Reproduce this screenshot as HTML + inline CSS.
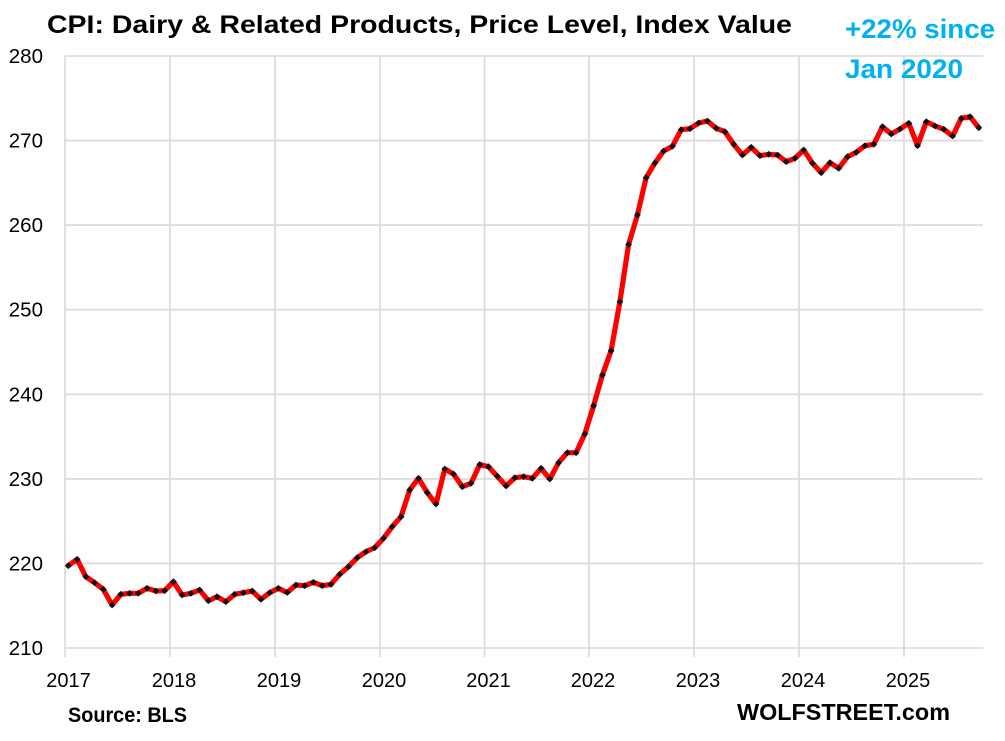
<!DOCTYPE html>
<html>
<head>
<meta charset="utf-8">
<style>
  html, body { margin: 0; padding: 0; background: #ffffff; }
  body { width: 1005px; height: 741px; overflow: hidden; }
  svg { display: block; }
  text { font-family: "Liberation Sans", Arial, sans-serif; }
</style>
</head>
<body>
<svg width="1005" height="741" viewBox="0 0 1005 741" xmlns="http://www.w3.org/2000/svg">
  <defs>
    <marker id="dia" markerUnits="userSpaceOnUse" markerWidth="10" markerHeight="10" refX="5" refY="5" orient="0">
      <path d="M5 1.6 L8.4 5 L5 8.4 L1.6 5 Z" fill="#111"/>
    </marker>
  </defs>
  <rect x="0" y="0" width="1005" height="741" fill="#fff"/>

  <!-- horizontal gridlines -->
  <g stroke="#d9d9d9" stroke-width="1.6">
    <line x1="65" y1="56" x2="983" y2="56"/>
    <line x1="65" y1="140.6" x2="983" y2="140.6"/>
    <line x1="65" y1="225.1" x2="983" y2="225.1"/>
    <line x1="65" y1="309.7" x2="983" y2="309.7"/>
    <line x1="65" y1="394.3" x2="983" y2="394.3"/>
    <line x1="65" y1="478.9" x2="983" y2="478.9"/>
    <line x1="65" y1="563.4" x2="983" y2="563.4"/>
    <line x1="65" y1="648" x2="983" y2="648"/>
  </g>
  <!-- vertical gridlines -->
  <g stroke="#d9d9d9" stroke-width="1.6">
    <line x1="65" y1="56" x2="65" y2="657"/>
    <line x1="170" y1="56" x2="170" y2="657"/>
    <line x1="275" y1="56" x2="275" y2="657"/>
    <line x1="380" y1="56" x2="380" y2="657"/>
    <line x1="484.5" y1="56" x2="484.5" y2="657"/>
    <line x1="589" y1="56" x2="589" y2="657"/>
    <line x1="694" y1="56" x2="694" y2="657"/>
    <line x1="799" y1="56" x2="799" y2="657"/>
    <line x1="904" y1="56" x2="904" y2="657"/>
  </g>

  <!-- y labels -->
  <g font-size="20.5" fill="#000" text-anchor="end">
    <text x="43" y="63">280</text>
    <text x="43" y="147.6">270</text>
    <text x="43" y="232.1">260</text>
    <text x="43" y="316.7">250</text>
    <text x="43" y="401.3">240</text>
    <text x="43" y="485.9">230</text>
    <text x="43" y="570.4">220</text>
    <text x="43" y="655">210</text>
  </g>
  <!-- x labels -->
  <g font-size="20" fill="#000" text-anchor="middle">
    <text x="68.5" y="687">2017</text>
    <text x="174" y="687">2018</text>
    <text x="279" y="687">2019</text>
    <text x="384" y="687">2020</text>
    <text x="488.5" y="687">2021</text>
    <text x="593" y="687">2022</text>
    <text x="698" y="687">2023</text>
    <text x="803" y="687">2024</text>
    <text x="908" y="687">2025</text>
  </g>

  <!-- series -->
  <polyline fill="none" stroke="#ff0000" stroke-width="5.2" stroke-linejoin="round" stroke-linecap="round"
    marker-start="url(#dia)" marker-mid="url(#dia)" marker-end="url(#dia)"
    points="68.3,565.7 77.1,559.3 85.8,576.7 94.6,582.7 103.3,589.3 112.1,605 120.8,594.3 129.6,593.3 138.3,593.3 147.1,588.3 155.9,591 164.6,590.7 173.4,581.7 182.1,595 190.9,593.3 199.6,590 208.4,600.7 217.1,596.7 225.9,601.7 234.6,594.3 243.4,592.7 252.2,591 260.9,599.3 269.7,592.7 278.4,588.3 287.2,592.5 295.9,585 304.7,585.7 313.4,582.3 322.2,585.7 331,584.3 339.7,574.3 348.5,566.7 357.2,557.7 366,551.7 374.7,547.7 383.5,538.3 392.2,526.7 401,516.7 409.7,490 418.5,478.3 427.3,492.7 436,504 444.8,469 453.5,474 462.3,486.7 471,483.3 479.8,464.5 488.5,466.7 497.3,476.3 506.1,486 514.8,477.7 523.6,476.7 532.3,478.3 541.1,468.3 549.8,479 558.6,462.7 567.3,452.7 576.1,452.7 584.8,434 593.6,405.7 602.4,375 611.1,350.7 619.9,301.7 628.6,244.5 637.4,215 646.1,177.7 654.9,163 663.6,151 672.4,146.3 681.2,129.7 689.9,128.7 698.7,123 707.4,121 716.2,128.3 724.9,131.7 733.7,144.3 742.4,155 751.2,147.3 760,155.7 768.7,154.3 777.5,155 786.2,161.7 795,158.3 803.7,150 812.5,163.3 821.2,172.7 830,162.7 838.7,168.3 847.5,156.7 856.3,152.3 865,145.7 873.8,144.3 882.5,126.7 891.3,134 900,129 908.8,123.3 917.5,145.7 926.3,121.7 935.1,126 943.8,129.3 952.6,136 961.3,118.3 970.1,116.7 978.8,127.7"/>

  <!-- title -->
  <text x="47" y="33" font-size="25" font-weight="bold" fill="#000" textLength="745" lengthAdjust="spacingAndGlyphs">CPI: Dairy &amp; Related Products, Price Level, Index Value</text>
  <text x="845" y="38" font-size="27" font-weight="bold" fill="#00b0f0" textLength="150" lengthAdjust="spacingAndGlyphs">+22% since</text>
  <text x="845" y="78" font-size="27" font-weight="bold" fill="#00b0f0" textLength="118" lengthAdjust="spacingAndGlyphs">Jan 2020</text>

  <!-- footer -->
  <text x="68" y="722" font-size="21" font-weight="bold" fill="#000" textLength="119" lengthAdjust="spacingAndGlyphs">Source: BLS</text>
  <text x="737" y="720" font-size="23" font-weight="bold" fill="#000" textLength="213" lengthAdjust="spacingAndGlyphs">WOLFSTREET.com</text>
</svg>
</body>
</html>
